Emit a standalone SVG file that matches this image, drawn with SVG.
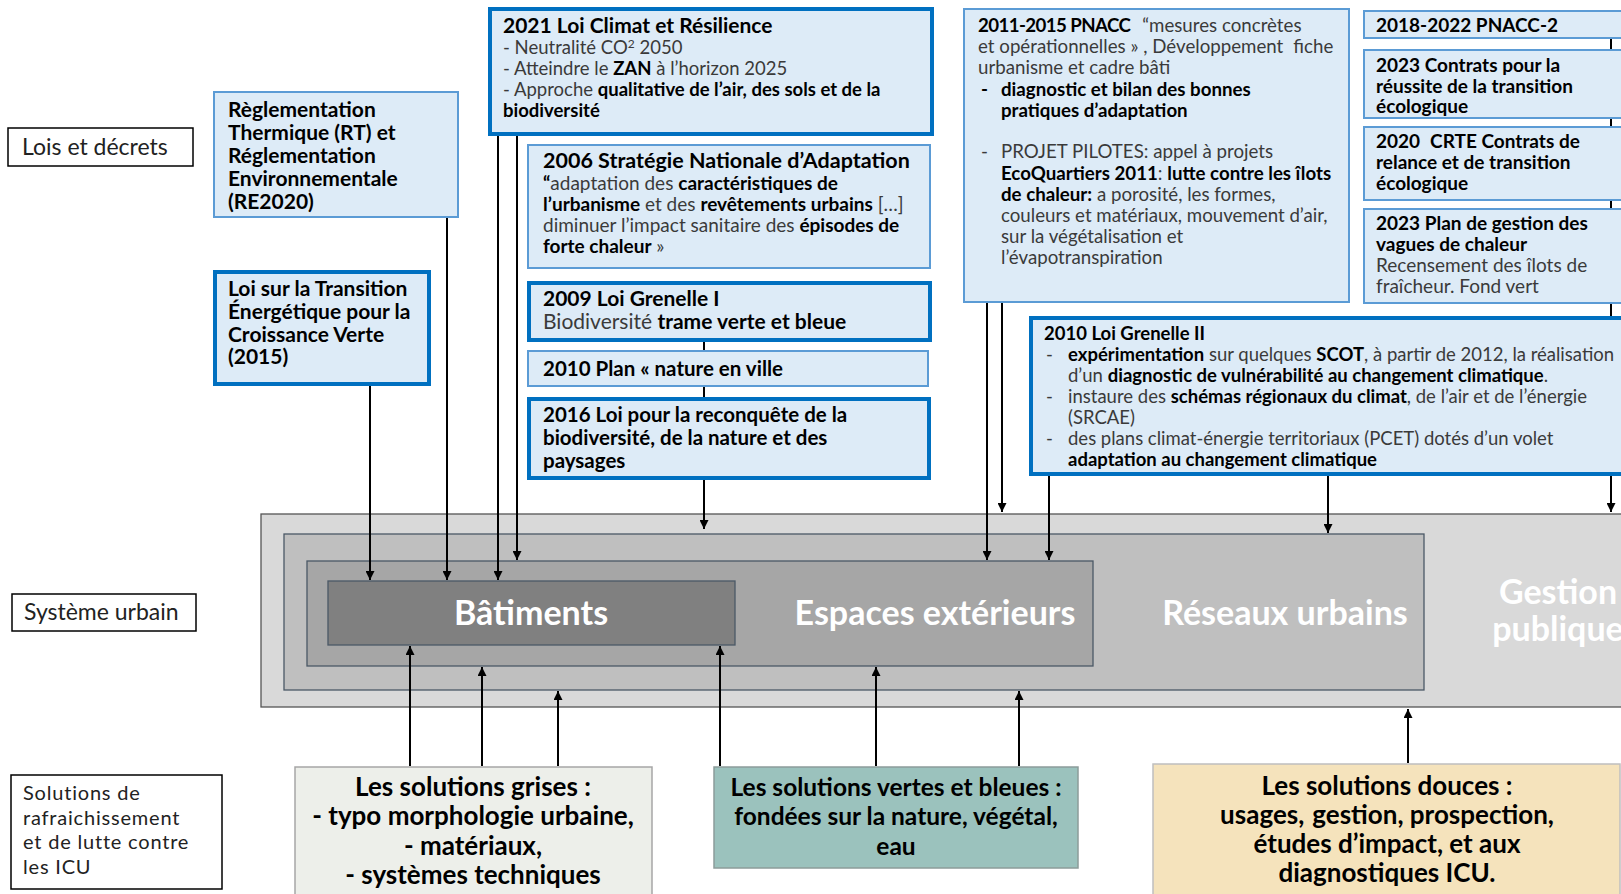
<svg xmlns="http://www.w3.org/2000/svg" width="1621" height="894" viewBox="0 0 1621 894">
<style>
text{font-family:Lato,"Liberation Sans",sans-serif}
.b{font-weight:700;fill:#000}
.r{font-weight:400;fill:#3a3a3a}
.thin{fill:#DDEBF7;stroke:#5B9BD5;stroke-width:2}
.thick{fill:#DDEBF7;stroke:#0070C0;stroke-width:4}
.lbl{fill:#fff;stroke:#000;stroke-width:1.5}
.lt{font-size:23px;fill:#222;font-weight:400}
.lts{font-size:20px;letter-spacing:0.8px;fill:#222;font-weight:400}
.sys{font-size:34px;font-weight:700;fill:#fff;text-anchor:middle}
.sol{font-size:26px;font-weight:700;fill:#000;text-anchor:middle}
.solv{font-size:24.5px;font-weight:700;fill:#000;text-anchor:middle}
.cn{stroke:#000;stroke-width:2;fill:none;marker-end:url(#ah)}
</style>
<defs>
<marker id="ah" viewBox="0 0 10 10" refX="10" refY="5" markerWidth="9" markerHeight="9" markerUnits="userSpaceOnUse" orient="auto"><path d="M0,0 L10,5 L0,10 z" fill="#000"/></marker>
</defs>
<rect width="1621" height="894" fill="#fff"/>

<!-- left labels -->
<g id="label-lois"><rect class="lbl" x="8" y="128" width="185" height="38"/><text class="lt" x="22" y="155">Lois et décrets</text></g>
<g id="label-systeme"><rect class="lbl" x="12" y="594" width="184" height="37"/><text class="lt" x="24" y="620">Système urbain</text></g>
<g id="label-solutions"><rect class="lbl" x="11" y="775" width="211" height="114"/>
<text class="lts"><tspan x="23" y="800">Solutions de</tspan><tspan x="23" y="824.5">rafraichissement</tspan><tspan x="23" y="849">et de lutte contre</tspan><tspan x="23" y="873.5">les ICU</tspan></text></g>

<!-- urban system -->
<g id="systeme-urbain">
<rect x="261" y="514" width="1370" height="193" fill="#D9D9D9" stroke="#555" stroke-width="1.3"/>
<rect x="284" y="534" width="1140" height="156" fill="#BFBFBF" stroke="#4A5866" stroke-width="1.3"/>
<rect x="307" y="561" width="786" height="105" fill="#A6A6A6" stroke="#4A5866" stroke-width="1.3"/>
<rect x="328" y="581" width="407" height="64" fill="#808080" stroke="#4A5866" stroke-width="1.3"/>
</g>
<g id="batiments"><text class="sys" x="531" y="625">Bâtiments</text></g>
<g id="espaces"><text class="sys" x="935" y="625">Espaces extérieurs</text></g>
<g id="reseaux"><text class="sys" x="1285" y="625">Réseaux urbains</text></g>
<g id="gestion"><text class="sys" x="1558" y="604">Gestion</text><text class="sys" x="1558" y="641">publique</text></g>

<!-- connectors -->
<g id="connectors">
<line class="cn" x1="370" y1="386" x2="370" y2="580"/>
<line class="cn" x1="447" y1="217" x2="447" y2="580"/>
<line class="cn" x1="498" y1="135" x2="498" y2="580"/>
<line class="cn" x1="517" y1="135" x2="517" y2="560"/>
<line class="cn" x1="704" y1="340" x2="704" y2="529"/>
<line class="cn" x1="987" y1="302" x2="987" y2="560"/>
<line class="cn" x1="1002" y1="302" x2="1002" y2="512"/>
<line class="cn" x1="1049" y1="474" x2="1049" y2="560"/>
<line class="cn" x1="1328" y1="474" x2="1328" y2="533"/>
<line class="cn" x1="1611" y1="38" x2="1611" y2="512"/>
<line class="cn" x1="410" y1="766" x2="410" y2="646"/>
<line class="cn" x1="482" y1="766" x2="482" y2="667"/>
<line class="cn" x1="558" y1="766" x2="558" y2="691"/>
<line class="cn" x1="720" y1="766" x2="720" y2="646"/>
<line class="cn" x1="876" y1="766" x2="876" y2="667"/>
<line class="cn" x1="1019" y1="766" x2="1019" y2="691"/>
<line class="cn" x1="1408" y1="763" x2="1408" y2="709"/>
</g>

<!-- law boxes -->
<g id="rt"><rect class="thin" x="214" y="92" width="244" height="125"/>
<text class="b" font-size="21"><tspan x="228" y="117">Règlementation</tspan><tspan x="228" y="140">Thermique (RT) et</tspan><tspan x="228" y="163">Réglementation</tspan><tspan x="228" y="186">Environnementale</tspan><tspan x="228" y="209">(RE2020)</tspan></text></g>

<g id="ltecv"><rect class="thick" x="215" y="272" width="214" height="112"/>
<text class="b" font-size="21"><tspan x="228" y="296">Loi sur la Transition</tspan><tspan x="228" y="319">Énergétique pour la</tspan><tspan x="228" y="342">Croissance Verte</tspan><tspan x="228" y="364">(2015)</tspan></text></g>

<g id="climat-resilience"><rect class="thick" x="490" y="9" width="442" height="125"/>
<text font-size="18.5"><tspan class="b" x="503" y="33" font-size="21">2021 Loi Climat et Résilience</tspan>
<tspan class="r" x="503" y="54">- Neutralité CO</tspan><tspan class="r" dy="-6" font-size="12">2</tspan><tspan class="r" dy="6"> 2050</tspan>
<tspan class="r" x="503" y="75">- Atteindre le </tspan><tspan class="b">ZAN</tspan><tspan class="r"> à l’horizon 2025</tspan>
<tspan class="r" x="503" y="96">- Approche </tspan><tspan class="b">qualitative de l’air, des sols et de la</tspan>
<tspan class="b" x="503" y="117">biodiversité</tspan></text></g>

<g id="sna-2006"><rect class="thin" x="528" y="145" width="402" height="123"/>
<text font-size="19"><tspan class="b" x="543" y="168" font-size="21.5">2006 Stratégie Nationale d’Adaptation</tspan>
<tspan class="b" x="543" y="190">“</tspan><tspan class="r">adaptation des </tspan><tspan class="b">caractéristiques de</tspan>
<tspan class="b" x="543" y="211">l’urbanisme</tspan><tspan class="r"> et des </tspan><tspan class="b">revêtements urbains</tspan><tspan class="r"> […]</tspan>
<tspan class="r" x="543" y="232">diminuer l’impact sanitaire des </tspan><tspan class="b">épisodes de</tspan>
<tspan class="b" x="543" y="253">forte chaleur</tspan><tspan class="r"> »</tspan></text></g>

<g id="grenelle-1"><rect class="thick" x="529" y="283" width="401" height="57"/>
<text font-size="21"><tspan class="b" x="543" y="306">2009 Loi Grenelle I</tspan><tspan class="r" x="543" y="329">Biodiversité </tspan><tspan class="b">trame verte et bleue</tspan></text></g>

<g id="nature-ville"><rect class="thin" x="528" y="351" width="400" height="35"/>
<text class="b" font-size="20.5" x="543" y="376">2010 Plan « nature en ville</text></g>

<g id="biodiversite-2016"><rect class="thick" x="529" y="399" width="400" height="79"/>
<text class="b" font-size="20.5"><tspan x="543" y="422">2016 Loi pour la reconquête de la</tspan><tspan x="543" y="445">biodiversité, de la nature et des</tspan><tspan x="543" y="468">paysages</tspan></text></g>

<g id="pnacc"><rect class="thin" x="964" y="9" width="385" height="293"/>
<text font-size="18.7"><tspan class="b" x="978" y="32" letter-spacing="-0.6">2011-2015 PNACC</tspan><tspan class="r" dx="12">“mesures concrètes</tspan>
<tspan class="r" x="978" y="53">et opérationnelles » , Développement</tspan><tspan class="r" dx="10">fiche</tspan>
<tspan class="r" x="978" y="74">urbanisme et cadre bâti</tspan>
<tspan class="b" x="981" y="96">-</tspan><tspan class="b" x="1001" y="96">diagnostic et bilan des bonnes</tspan>
<tspan class="b" x="1001" y="117">pratiques d’adaptation</tspan>
<tspan class="r" x="981" y="158">-</tspan><tspan class="r" x="1001" y="158">PROJET PILOTES: appel à projets</tspan>
<tspan class="b" x="1001" y="180">EcoQuartiers 2011</tspan><tspan class="r">: </tspan><tspan class="b">lutte contre les îlots</tspan>
<tspan class="b" x="1001" y="201">de chaleur:</tspan><tspan class="r"> a porosité, les formes,</tspan>
<tspan class="r" x="1001" y="222">couleurs et matériaux, mouvement d’air,</tspan>
<tspan class="r" x="1001" y="243">sur la végétalisation et</tspan>
<tspan class="r" x="1001" y="264">l’évapotranspiration</tspan></text></g>

<g id="pnacc-2"><rect class="thin" x="1364" y="11" width="270" height="27"/>
<text class="b" font-size="19" x="1376" y="32">2018-2022 PNACC-2</text></g>
<g id="contrats-2023"><rect class="thin" x="1364" y="50" width="270" height="68"/>
<text class="b" font-size="19"><tspan x="1376" y="72">2023 Contrats pour la</tspan><tspan x="1376" y="93">réussite de la transition</tspan><tspan x="1376" y="113">écologique</tspan></text></g>
<g id="crte-2020"><rect class="thin" x="1364" y="127" width="270" height="73"/>
<text class="b" font-size="19"><tspan x="1376" y="148">2020</tspan><tspan dx="10">CRTE Contrats de</tspan><tspan x="1376" y="169">relance et de transition</tspan><tspan x="1376" y="190">écologique</tspan></text></g>
<g id="vagues-2023"><rect class="thin" x="1364" y="209" width="270" height="94"/>
<text font-size="19"><tspan class="b" x="1376" y="230">2023 Plan de gestion des</tspan><tspan class="b" x="1376" y="251">vagues de chaleur</tspan><tspan class="r" x="1376" y="272">Recensement des îlots de</tspan><tspan class="r" x="1376" y="293">fraîcheur. Fond vert</tspan></text></g>

<g id="grenelle-2"><rect class="thick" x="1031" y="318" width="600" height="156"/>
<text font-size="18.5"><tspan class="b" x="1044" y="340">2010 Loi Grenelle II</tspan>
<tspan class="r" x="1046" y="361">-</tspan><tspan class="b" x="1068" y="361">expérimentation</tspan><tspan class="r"> sur quelques </tspan><tspan class="b">SCOT</tspan><tspan class="r">, à partir de 2012, la réalisation</tspan>
<tspan class="r" x="1068" y="382">d’un </tspan><tspan class="b">diagnostic de vulnérabilité au changement climatique</tspan><tspan class="r">.</tspan>
<tspan class="r" x="1046" y="403">-</tspan><tspan class="r" x="1068" y="403">instaure des </tspan><tspan class="b">schémas régionaux du climat</tspan><tspan class="r">, de l’air et de l’énergie</tspan>
<tspan class="r" x="1068" y="424">(SRCAE)</tspan>
<tspan class="r" x="1046" y="445">-</tspan><tspan class="r" x="1068" y="445">des plans climat-énergie territoriaux (PCET) dotés d’un volet</tspan>
<tspan class="b" x="1068" y="466">adaptation au changement climatique</tspan></text></g>

<!-- solutions -->
<g id="sol-grises"><rect x="295" y="767" width="357" height="140" fill="#EDEFEA" stroke="#A6A6A6" stroke-width="1.5"/>
<text class="sol"><tspan x="473" y="796">Les solutions grises :</tspan><tspan x="473" y="825">- typo morphologie urbaine,</tspan><tspan x="473" y="855">- matériaux,</tspan><tspan x="473" y="884">- systèmes techniques</tspan></text></g>
<g id="sol-vertes"><rect x="714" y="767" width="364" height="101" fill="#9BC2BD" stroke="#8C9C9A" stroke-width="1.5"/>
<text class="solv"><tspan x="896" y="796">Les solutions vertes et bleues :</tspan><tspan x="896" y="825">fondées sur la nature, végétal,</tspan><tspan x="896" y="855">eau</tspan></text></g>
<g id="sol-douces"><rect x="1153" y="764" width="467" height="140" fill="#F5E3BC" stroke="#BFBFBF" stroke-width="1.5"/>
<text class="sol"><tspan x="1387" y="795">Les solutions douces :</tspan><tspan x="1387" y="824">usages,<tspan dx="8">gestion, prospection,</tspan></tspan><tspan x="1387" y="853">études d’impact, et aux</tspan><tspan x="1387" y="882">diagnostiques ICU.</tspan></text></g>
</svg>
